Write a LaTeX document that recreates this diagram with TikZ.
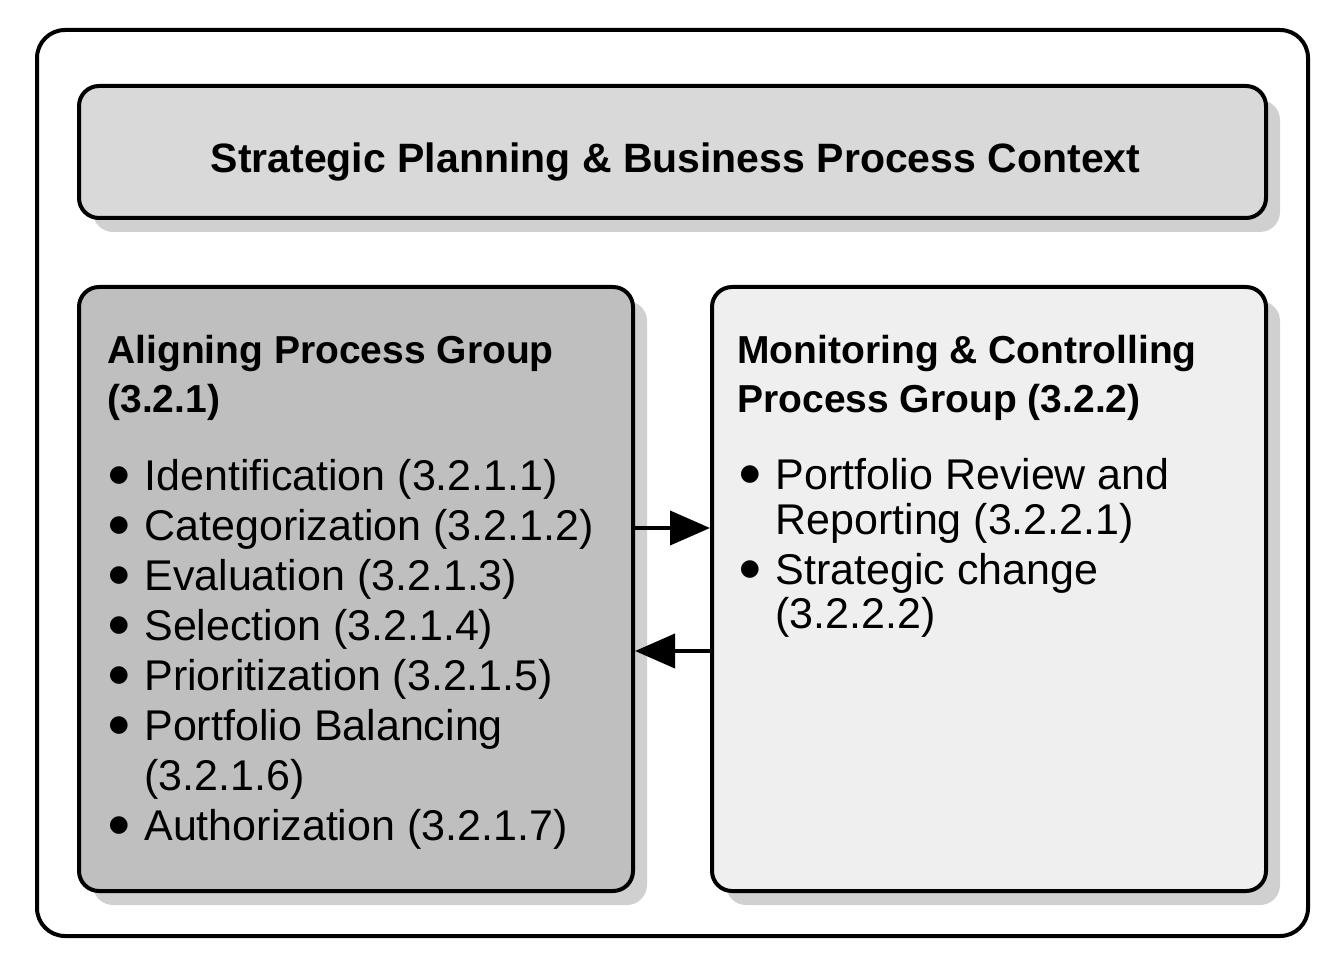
\documentclass[tikz,border=0pt]{standalone}
\usepackage{fontspec}
\setmainfont{Liberation Sans}
\newfontfamily\symfont{DejaVu Sans}
\usetikzlibrary{arrows.meta}
\definecolor{topfill}{HTML}{D9D9D9}
\definecolor{leftfill}{HTML}{BFBFBF}
\definecolor{rightfill}{HTML}{EFEFEF}
\definecolor{shadowc}{HTML}{D0D0D0}
\tikzset{
  box/.style={draw=black, line width=2pt, rounded corners=10pt, inner sep=0pt},
  shadowbox/.style={fill=shadowc, rounded corners=10pt},
  body/.style={anchor=base west, inner sep=0pt, font=\fontsize{21.5pt}{25pt}\selectfont},
  head/.style={anchor=base west, inner sep=0pt, font=\fontsize{19.5pt}{24pt}\selectfont\bfseries},
  bul/.style={anchor=center, inner sep=0pt, font=\symfont\fontsize{11.5pt}{12pt}\selectfont},
  arr/.style={line width=2pt, -{Triangle[length=20pt,width=17pt]}}
}
\begin{document}
\begin{tikzpicture}[x=0.5pt,y=-0.5pt]
\useasboundingbox (0,0) rectangle (1336,978);
% outer frame
\node[draw=black, line width=2pt, rounded corners=14pt, inner sep=0pt,
      minimum width=635.5pt, minimum height=453pt] (outer) at (672.5,483) {};
% shadows
\fill[shadowbox] (93,100) rectangle (1280,232);
\fill[shadowbox] (93,301) rectangle (647,905);
\fill[shadowbox] (726,301) rectangle (1280,905);
% boxes
\node[box, fill=topfill, minimum width=593.5pt, minimum height=66pt] (top) at (672.5,152) {};
\node[box, fill=leftfill, minimum width=277pt, minimum height=302pt] (L) at (356,589) {};
\node[box, fill=rightfill, minimum width=277pt, minimum height=302pt] (R) at (989,589) {};
% title
\node[anchor=base, inner sep=0pt, font=\fontsize{20.5pt}{24pt}\selectfont\bfseries] (title) at (675.5,173) {Strategic Planning \& Business Process Context};
% left heading
\node[head] (lh1) at (107,363) {Aligning Process Group};
\node[head] (lh2) at (107,412) {(3.2.1)};
% left bullets
\node[bul] (lb1) at (119,476) {●};
\node[body] (lt1) at (144,490) {Identification (3.2.1.1)};
\node[bul] (lb2) at (119,526) {●};
\node[body] (lt2) at (144,540) {Categorization (3.2.1.2)};
\node[bul] (lb3) at (119,576) {●};
\node[body] (lt3) at (144,590) {Evaluation (3.2.1.3)};
\node[bul] (lb4) at (119,626) {●};
\node[body] (lt4) at (144,640) {Selection (3.2.1.4)};
\node[bul] (lb5) at (119,676) {●};
\node[body] (lt5) at (144,690) {Prioritization (3.2.1.5)};
\node[bul] (lb6) at (119,726) {●};
\node[body] (lt6) at (144,740) {Portfolio Balancing};
\node[body] (lt6b) at (144,790) {(3.2.1.6)};
\node[bul] (lb7) at (119,826) {●};
\node[body] (lt7) at (144,840) {Authorization (3.2.1.7)};
% right heading
\node[head] (rh1) at (737,363) {Monitoring \& Controlling};
\node[head] (rh2) at (737,412) {Process Group (3.2.2)};
% right bullets
\node[bul] (rb1) at (750,475) {●};
\node[body] (rt1) at (775,489) {Portfolio Review and};
\node[body] (rt1b) at (775,534) {Reporting (3.2.2.1)};
\node[bul] (rb2) at (750,570) {●};
\node[body] (rt2) at (775,584) {Strategic change};
\node[body] (rt2b) at (775,628) {(3.2.2.2)};
% arrows
\coordinate (a1) at (0,528);
\coordinate (a2) at (0,651);
\draw[arr] (L.east |- a1) -- (R.west |- a1);
\draw[arr] (R.west |- a2) -- (L.east |- a2);
\end{tikzpicture}
\end{document}
